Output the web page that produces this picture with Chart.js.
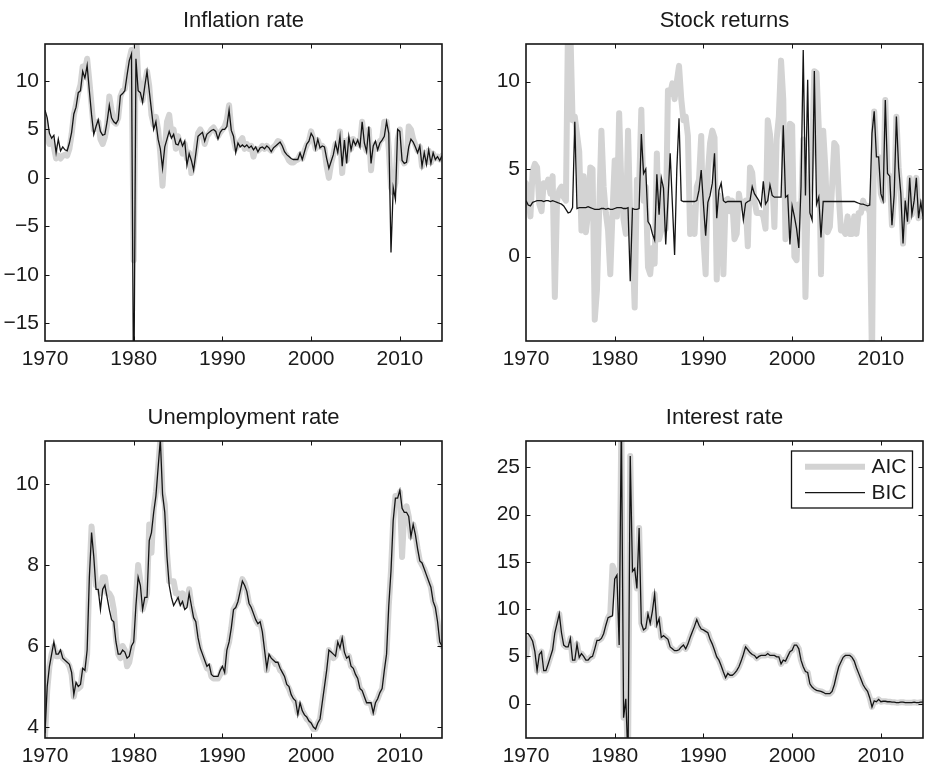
<!DOCTYPE html>
<html><head><meta charset="utf-8">
<script src="https://cdn.jsdelivr.net/npm/chart.js@4.4.1/dist/chart.umd.min.js"></script>
<style>
html,body{margin:0;padding:0;background:#fff;overflow:hidden;width:929px;height:773px;}
.p{position:absolute;}
canvas{display:block;}
</style></head><body>
<div class="p" style="left:0px;top:0px"><canvas id="c1"></canvas></div>
<div class="p" style="left:481px;top:0px"><canvas id="c2"></canvas></div>
<div class="p" style="left:0px;top:397px"><canvas id="c3"></canvas></div>
<div class="p" style="left:481px;top:397px"><canvas id="c4"></canvas></div>
<script>
// ---------- categories (quarters 1970Q1 .. 2014Q4) ----------
const quarters = Array.from({length: 180}, (_, i) => 1970 + i / 4);
const xTickYears = [1970, 1980, 1990, 2000, 2010];
const seriesLabels = ['AIC', 'BIC'];
const panelTitles = ['Inflation rate', 'Stock returns', 'Unemployment rate', 'Interest rate'];

// ---------- y tick labels ----------
const yTicksInfl = [-15, -10, -5, 0, 5, 10];
const yTicksStock = [0, 5, 10];
const yTicksUnemp = [4, 6, 8, 10];
const yTicksInt = [0, 5, 10, 15, 20, 25];

// ---------- Inflation rate ----------
const bicInfl = [
 7.0, 6.2, 4.6, 4.1, 4.4, 2.6, 4.0, 2.8, 3.2, 2.9, 2.8, 3.6, 4.7, 6.6, 7.3, 8.8, 9.0, 11.0, 10.3, 11.6,
 9.0, 6.5, 4.5, 5.3, 6.0, 4.8, 4.4, 4.5, 5.8, 7.5, 6.2, 5.8, 5.6, 6.0, 8.5, 8.7, 9.0, 10.6, 12.1, 12.8,
 -25.0, 12.3, 9.0, 8.8, 7.8, 9.5, 11.0, 9.0, 7.0, 5.0, 5.8, 4.0, 3.0, 1.0, 3.2, 4.0, 4.8, 4.1, 4.5, 3.5,
 3.4, 4.0, 3.3, 3.8, 1.3, 2.5, 1.8, 0.8, 2.5, 4.3, 4.5, 4.7, 3.8, 4.5, 4.7, 4.9, 5.0, 4.8, 4.0, 4.7,
 5.0, 5.0, 5.3, 7.0, 4.9, 4.3, 2.6, 3.6, 3.2, 3.4, 3.2, 3.4, 3.1, 3.3, 2.9, 3.2, 2.7, 3.1, 3.2, 3.0,
 3.3, 3.1, 2.7, 3.1, 3.3, 3.5, 3.7, 3.3, 2.7, 2.4, 2.2, 2.0, 1.9, 1.9, 1.9, 2.6, 1.9, 2.7, 3.5, 3.8,
 4.6, 4.2, 3.0, 4.0, 3.1, 3.3, 3.2, 2.0, 1.0, 1.7, 2.4, 3.6, 2.6, 4.3, 1.2, 3.9, 1.5, 4.3, 2.9, 3.9,
 3.4, 3.9, 3.2, 5.8, 3.6, 2.7, 5.3, 1.5, 3.3, 3.8, 2.9, 3.6, 3.9, 4.3, 5.8, 4.6, -7.7, -1.0, -2.2, 5.0,
 4.8, 1.8, 1.5, 1.6, 3.2, 4.0, 3.7, 3.2, 2.6, 3.3, 1.2, 2.6, 1.4, 2.9, 1.5, 2.6, 1.9, 2.2, 1.8, 2.3
];
const aicInfl = [
 6.0, 4.2, 3.5, 3.8, 3.2, 2.0, 2.3, 2.0, 2.3, 2.4, 2.3, 3.0, 4.5, 6.5, 7.6, 8.8, 9.6, 11.5, 11.0, 12.3,
 10.0, 7.5, 5.0, 5.2, 5.8, 4.0, 3.5, 4.2, 5.5, 8.4, 7.0, 5.8, 5.6, 6.2, 8.4, 9.0, 9.2, 10.8, 12.2, 13.2,
 -8.5, 15.0, 10.5, 9.0, 8.0, 9.8, 11.0, 9.5, 6.5, 5.5, 6.3, 5.0, 2.5, -0.8, 3.0, 5.8, 6.5, 4.5, 5.0, 3.0,
 4.3, 3.5, 2.5, 3.5, 2.0, 2.6, 0.5, 1.5, 3.0, 4.6, 5.0, 4.6, 3.5, 4.3, 4.6, 5.0, 5.2, 4.8, 4.3, 4.7,
 5.0, 5.3, 6.0, 7.5, 5.0, 4.0, 3.0, 3.4, 3.8, 4.1, 3.0, 3.5, 3.0, 3.3, 2.2, 3.0, 2.8, 3.0, 3.3, 3.0,
 3.3, 3.0, 2.8, 3.2, 3.4, 3.8, 3.7, 3.3, 2.6, 2.3, 1.8, 1.6, 1.6, 1.8, 1.9, 2.4, 2.0, 2.8, 3.4, 3.8,
 4.8, 4.0, 3.0, 3.9, 3.2, 3.3, 3.0, 1.2, 0.0, 1.5, 2.4, 3.5, 2.8, 4.8, 0.5, 3.8, 1.8, 4.0, 3.0, 4.0,
 3.5, 3.8, 3.4, 5.8, 3.5, 2.8, 5.0, 0.8, 3.3, 3.5, 3.0, 3.8, 4.0, 5.8, 5.8, 3.0, -1.0, -1.5, -0.5, 4.0,
 5.0, 2.0, 1.5, 1.8, 5.3, 5.0, 4.0, 3.4, 2.8, 3.2, 1.2, 2.6, 1.6, 2.8, 1.6, 2.5, 2.0, 2.2, 1.9, 2.3
];

// ---------- Stock returns ----------
const bicStock = [
 3.2, 2.95, 2.9, 3.1, 3.15, 3.2, 3.2, 3.2, 3.15, 3.2, 3.2, 3.15, 3.2, 3.15, 3.1, 3.05, 3.0, 2.9, 2.7, 2.5,
 2.55, 2.8, 7.7, 2.75, 2.8, 2.8, 2.8, 2.8, 2.85, 2.8, 2.75, 2.7, 2.7, 2.7, 2.75, 2.75, 2.7, 2.75, 2.7, 2.7,
 2.75, 2.8, 2.8, 2.8, 2.75, 2.75, 2.8, -1.4, 2.75, 2.7, 2.7, 2.75, 7.0, 4.75, 5.0, 2.0, 1.8, 1.3, 0.95, 4.7,
 2.4, 4.5, 3.9, 0.7, 3.2, 5.9, 3.0, 0.1, 5.0, 7.9, 3.2, 3.15, 3.15, 3.15, 3.15, 3.15, 3.15, 3.2, 3.8, 4.95,
 3.0, 1.2, 3.1, 3.5, 4.2, 5.9, 2.2, 3.8, 4.2, 3.2, 3.1, 3.15, 3.15, 3.15, 3.15, 3.15, 3.15, 3.15, 2.1, 3.05,
 3.15, 3.2, 4.0, 3.6, 3.4, 3.2, 2.9, 4.3, 3.0, 3.2, 4.1, 3.5, 3.4, 3.4, 3.4, 3.4, 7.5, 3.4, 3.5, 0.7,
 2.9, 2.3, 1.6, 0.5, 4.0, 11.8, 3.5, 10.1, 2.5, 2.1, 10.6, 3.0, 3.4, 1.1, 3.15, 3.15, 3.15, 3.15, 3.15, 3.15,
 3.15, 3.15, 3.15, 3.15, 3.15, 3.15, 3.15, 3.15, 3.15, 3.1, 3.05, 3.0, 3.0, 2.95, 2.9, 2.95, 7.05, 8.3, 5.7, 5.7,
 3.6, 3.2, 8.95, 4.75, 4.6, 1.8, 3.5, 8.0, 5.1, 3.6, 0.75, 3.2, 2.0, 4.5, 2.4, 3.2, 4.5, 2.2, 3.1, 2.3
];
const aicStock = [
 4.2, 3.5, 2.3, 4.9, 5.3, 5.1, 3.0, 2.6, 4.2, 4.0, 4.4, 3.6, 4.6, -2.3, 3.2, 3.8, 4.0, 3.4, 3.2, 14.0,
 13.0, 7.8, 8.0, 7.0, 6.0, 1.5, 4.6, 1.4, 2.5, 5.1, 5.0, -3.6, -1.9, 2.7, 7.2, 4.0, 2.5, 1.5, -1.0, 2.5,
 5.5, 2.3, 8.2, 4.0, 2.1, 1.3, 7.2, 2.3, 0.8, -2.9, 4.4, 4.0, 8.4, 3.2, 4.0, -0.6, -1.0, 0.5, -0.4, 5.9,
 1.0, 1.5, 4.0, 1.6, 9.5, 9.3, 9.9, 9.0, 10.0, 10.9, 9.0, 7.8, 8.0, 6.9, 1.3, 2.8, 1.3, 4.0, 4.4, 6.9,
 1.0, -1.0, 4.8, 6.5, 7.2, 6.8, -1.3, 3.5, 3.0, -1.0, 3.2, 3.3, 2.6, 3.2, 1.0, 1.3, 3.6, 2.8, 3.0, 3.2,
 0.6, 5.1, 4.8, 3.2, 2.5, 2.5, 2.5, 2.3, 1.6, 7.8, 7.0, 4.5, 1.7, 6.7, 8.0, 11.2, 9.0, 1.0, 1.5, 7.6,
 7.5, 0.0, -0.2, 3.0, 2.5, 6.7, -2.3, 3.2, 4.2, 6.0, 10.6, 10.5, 7.4, -1.0, 7.2, 5.0, 1.4, 1.7, 4.0, 6.5,
 6.3, 3.5, 1.5, 1.5, 1.3, 2.3, 1.3, 1.3, 2.3, 1.3, 2.5, 2.5, 3.2, 2.8, 2.9, 2.5, -6.0, 8.3, 5.7, 5.7,
 3.6, 3.2, 8.95, 4.75, 4.6, 1.8, 3.5, 8.0, 5.1, 3.6, 0.75, 3.2, 2.0, 4.5, 2.4, 3.2, 4.5, 2.2, 3.1, 2.3
];

// ---------- Unemployment rate ----------
const bicUnemp = [
 3.85, 5.0, 5.5, 5.8, 6.1, 5.8, 5.8, 5.9, 5.7, 5.65, 5.6, 5.55, 5.35, 4.8, 5.1, 5.0, 5.05, 5.45, 5.4, 5.9,
 7.7, 8.8, 8.2, 7.4, 7.4, 6.9, 7.4, 7.5, 7.2, 6.9, 6.65, 6.6, 6.1, 5.8, 5.8, 5.9, 5.85, 5.7, 5.75, 6.0,
 6.1, 7.0, 7.7, 7.5, 6.9, 7.2, 7.2, 8.6, 8.8, 9.3, 9.7, 10.4, 11.1, 9.75, 9.3, 8.2, 7.5, 7.2, 7.0, 7.1,
 7.2, 7.0, 7.1, 6.9, 6.95, 7.3, 7.0, 6.7, 6.6, 6.2, 5.95, 5.8, 5.65, 5.5, 5.55, 5.3, 5.25, 5.25, 5.25, 5.4,
 5.5, 5.35, 5.9, 6.1, 6.45, 6.9, 6.95, 7.1, 7.35, 7.6, 7.5, 7.35, 7.05, 6.95, 6.8, 6.65, 6.55, 6.6, 6.35, 5.9,
 5.45, 5.8, 5.7, 5.65, 5.6, 5.6, 5.45, 5.35, 5.25, 5.05, 5.0, 4.8, 4.7, 4.65, 4.3, 4.6, 4.4, 4.3, 4.25, 4.15,
 4.1, 4.0, 3.95, 4.1, 4.2, 4.6, 5.0, 5.4, 5.9, 5.85, 5.8, 5.75, 6.1, 5.95, 6.2, 5.85, 5.7, 5.75, 5.5, 5.45,
 5.3, 5.2, 4.95, 4.9, 4.75, 4.6, 4.6, 4.6, 4.35, 4.6, 4.7, 4.85, 4.95, 5.4, 5.8, 7.0, 7.85, 9.1, 9.65, 9.65,
 9.85, 9.4, 9.3, 9.3, 9.2, 8.7, 9.0, 8.75, 8.4, 8.1, 8.05, 7.9, 7.75, 7.6, 7.45, 7.1, 6.95, 6.6, 6.1, 6.0
];
const aicUnemp = [
 3.75, 4.9, 5.5, 5.8, 6.0, 5.75, 5.75, 5.85, 5.7, 5.65, 5.6, 5.5, 5.3, 4.75, 5.05, 4.95, 5.0, 5.4, 5.4, 5.8,
 7.7, 8.95, 8.3, 7.5, 7.5, 7.3, 7.7, 7.7, 7.3, 7.3, 7.2, 6.9, 6.2, 5.8, 5.7, 6.0, 5.9, 5.5, 5.6, 5.9,
 6.2, 7.2, 8.0, 7.6, 6.9, 7.1, 7.3, 9.0, 8.3, 9.4, 9.8, 10.4, 11.1, 9.8, 9.5, 8.3, 7.6, 7.6, 7.6, 7.3,
 7.3, 7.1, 7.3, 7.0, 7.1, 7.4, 7.0, 6.8, 6.6, 6.2, 5.9, 5.75, 5.6, 5.45, 5.5, 5.25, 5.2, 5.2, 5.2, 5.3,
 5.45, 5.35, 5.9, 6.1, 6.45, 6.9, 7.0, 7.1, 7.4, 7.65, 7.55, 7.35, 7.05, 6.95, 6.8, 6.65, 6.55, 6.6, 6.35, 5.9,
 5.4, 5.75, 5.7, 5.65, 5.55, 5.55, 5.4, 5.35, 5.2, 5.05, 4.95, 4.8, 4.7, 4.6, 4.35, 4.55, 4.4, 4.3, 4.2, 4.15,
 4.05, 3.95, 3.95, 4.1, 4.2, 4.6, 5.0, 5.4, 5.9, 5.8, 5.7, 5.75, 6.1, 5.95, 6.2, 5.85, 5.7, 5.75, 5.5, 5.45,
 5.3, 5.2, 4.95, 4.9, 4.75, 4.6, 4.6, 4.55, 4.35, 4.6, 4.7, 4.85, 4.95, 5.4, 5.8, 7.0, 7.85, 9.1, 9.7, 9.6,
 9.8, 8.2, 9.3, 9.45, 9.2, 8.7, 9.0, 8.75, 8.4, 8.1, 8.0, 7.9, 7.75, 7.6, 7.45, 7.1, 6.95, 6.6, 6.1, 6.0
];

// ---------- Interest rate ----------
const bicInt = [
 7.4, 7.4, 7.05, 6.6, 5.5, 3.5, 5.2, 5.5, 3.5, 3.5, 4.2, 4.95, 5.7, 7.5, 8.5, 9.5, 7.5, 6.2, 6.0, 6.0,
 6.9, 4.6, 4.6, 6.3, 4.9, 5.3, 5.0, 4.6, 4.6, 4.9, 5.0, 5.8, 6.7, 6.7, 6.9, 7.4, 8.3, 9.1, 9.2, 9.3,
 13.2, 13.6, 6.2, 30.0, -1.5, 0.5, -6.0, 26.2, 14.0, 14.3, 12.2, 18.6, 8.5, 7.8, 8.0, 9.5, 8.5, 9.8, 11.6, 8.3,
 9.0, 7.0, 7.2, 7.0, 6.8, 6.0, 5.8, 5.6, 5.6, 5.7, 6.0, 6.2, 5.8, 6.3, 7.0, 7.6, 8.2, 8.9, 8.3, 7.9,
 7.8, 7.65, 7.5, 6.8, 6.3, 5.65, 4.95, 4.6, 4.0, 3.35, 2.75, 3.2, 3.0, 3.0, 3.2, 3.5, 3.9, 4.5, 5.2, 6.0,
 5.7, 5.4, 5.2, 5.1, 4.8, 5.0, 5.1, 5.1, 5.1, 5.3, 5.1, 5.1, 5.1, 4.95, 4.95, 4.2, 4.6, 4.5, 5.0, 5.5,
 5.65, 6.2, 6.2, 5.8, 4.6, 3.9, 3.4, 3.3, 2.1, 1.75, 1.55, 1.4, 1.35, 1.3, 1.2, 1.05, 1.05, 1.05, 1.3, 2.0,
 3.0, 3.9, 4.4, 4.9, 5.1, 5.1, 5.1, 4.9, 4.5, 3.8, 3.2, 2.6, 2.0, 1.6, 1.3, 0.6, -0.35, 0.3, 0.2, 0.45,
 0.2, 0.25, 0.25, 0.2, 0.2, 0.15, 0.15, 0.1, 0.1, 0.15, 0.15, 0.1, 0.1, 0.1, 0.1, 0.15, 0.1, 0.1, 0.15, 0.15
];
const aicInt = [
 5.0, 6.8, 7.05, 6.6, 5.5, 3.5, 5.2, 5.5, 3.5, 3.5, 4.2, 4.95, 5.7, 7.5, 8.5, 9.5, 7.5, 6.2, 6.0, 6.0,
 6.9, 4.6, 4.6, 6.3, 4.9, 5.3, 5.0, 4.6, 4.6, 4.9, 5.0, 5.8, 6.7, 6.7, 6.9, 7.4, 8.3, 9.1, 9.5, 14.6,
 14.0, 13.6, 6.2, 30.0, -1.5, 0.5, -6.0, 26.2, 14.0, 14.3, 12.2, 18.6, 8.5, 7.8, 8.0, 9.5, 8.5, 9.8, 11.6, 8.3,
 9.0, 7.0, 7.2, 7.0, 6.8, 6.0, 5.8, 5.6, 5.6, 5.7, 6.0, 6.2, 5.8, 6.3, 7.0, 7.6, 8.2, 8.9, 8.3, 7.9,
 7.8, 7.65, 7.5, 6.8, 6.3, 5.65, 4.95, 4.6, 4.0, 3.35, 2.75, 3.2, 3.0, 3.0, 3.2, 3.5, 3.9, 4.5, 5.2, 6.0,
 5.7, 5.4, 5.2, 5.1, 4.8, 5.0, 5.1, 5.1, 5.1, 5.3, 5.1, 5.1, 5.1, 4.95, 4.95, 4.2, 4.6, 4.5, 5.0, 5.5,
 5.65, 6.2, 6.2, 5.8, 4.6, 3.9, 3.4, 3.3, 2.1, 1.75, 1.55, 1.4, 1.35, 1.3, 1.2, 1.05, 1.05, 1.05, 1.3, 2.0,
 3.0, 3.9, 4.4, 4.9, 5.1, 5.1, 5.1, 4.9, 4.5, 3.8, 3.2, 2.6, 2.0, 1.6, 1.3, 0.6, -0.35, 0.3, 0.2, 0.45,
 0.2, 0.25, 0.25, 0.2, 0.2, 0.15, 0.15, 0.1, 0.1, 0.15, 0.15, 0.1, 0.1, 0.1, 0.1, 0.15, 0.1, 0.1, 0.15, 0.15
];

// ---------- rendering ----------
const FONT = "'Liberation Sans', Arial, Helvetica, sans-serif";
const TXT = '#1a1a1a';
const Y_AXIS_W = 45, X_AXIS_H = 40, TITLE_H = 44, AREA_W = 397, PAD_R = 4;

const framePlugin = {
  id: 'frame',
  afterDatasetsDraw(chart) {
    const {ctx, chartArea: a, scales} = chart;
    ctx.save();
    ctx.strokeStyle = '#111';
    ctx.lineWidth = 1;
    const tl = 4.5;
    scales.x.ticks.forEach(t => {
      const x = Math.round(scales.x.getPixelForValue(t.value)) + 0.5;
      if (x <= a.left + 1 || x >= a.right - 1) return;
      ctx.beginPath();
      ctx.moveTo(x, a.bottom); ctx.lineTo(x, a.bottom - tl);
      ctx.moveTo(x, a.top); ctx.lineTo(x, a.top + tl);
      ctx.stroke();
    });
    scales.y.ticks.forEach(t => {
      const y = Math.round(scales.y.getPixelForValue(t.value)) + 0.5;
      if (y <= a.top + 1 || y >= a.bottom - 1) return;
      ctx.beginPath();
      ctx.moveTo(a.left, y); ctx.lineTo(a.left + tl, y);
      ctx.moveTo(a.right, y); ctx.lineTo(a.right - tl, y);
      ctx.stroke();
    });
    ctx.lineWidth = 1.6;
    ctx.strokeStyle = '#151515';
    ctx.strokeRect(a.left, a.top, a.right - a.left, a.bottom - a.top);
    const lg = chart.options.plugins.boxLegend;
    if (lg && lg.show) {
      const bx = a.right - 131.5, by = a.top + 10, bw = 121, bh = 57;
      ctx.fillStyle = '#fff';
      ctx.fillRect(bx, by, bw, bh);
      ctx.lineWidth = 1.3;
      ctx.strokeStyle = '#111';
      ctx.strokeRect(bx, by, bw, bh);
      const rows = [by + 15.7, by + 41.7];
      chart.data.datasets.forEach((ds, i) => {
        ctx.beginPath();
        ctx.strokeStyle = ds.borderColor;
        ctx.lineWidth = ds.borderWidth;
        ctx.lineCap = 'butt';
        ctx.moveTo(bx + 13.5, rows[i]); ctx.lineTo(bx + 73.5, rows[i]);
        ctx.stroke();
        ctx.fillStyle = TXT;
        ctx.font = '21px ' + FONT;
        ctx.textBaseline = 'middle';
        ctx.textAlign = 'left';
        ctx.fillText(ds.label, bx + 80, rows[i] + 1);
      });
    }
    ctx.restore();
  }
};

function makePanel(id, title, aic, bic, yMin, yMax, yTicks, areaH, legend) {
  const cv = document.getElementById(id);
  cv.width = Y_AXIS_W + AREA_W + PAD_R;
  cv.height = TITLE_H + areaH + X_AXIS_H;
  cv.style.width = cv.width + 'px';
  cv.style.height = cv.height + 'px';
  const mk = arr => quarters.map((q, i) => ({x: q, y: arr[i]}));
  return new Chart(cv, {
    type: 'line',
    data: {
      datasets: [
        {label: seriesLabels[0], data: mk(aic), borderColor: '#d3d3d3', borderWidth: 6,
         pointRadius: 0, tension: 0, borderJoinStyle: 'round', borderCapStyle: 'round', clip: 0, order: 1},
        {label: seriesLabels[1], data: mk(bic), borderColor: '#141414', borderWidth: 1.3,
         pointRadius: 0, tension: 0, borderJoinStyle: 'miter', clip: 0, order: 0}
      ]
    },
    options: {
      responsive: false,
      animation: false,
      devicePixelRatio: window.devicePixelRatio || 1,
      layout: {padding: {left: 0, right: PAD_R, top: 0, bottom: 0}},
      plugins: {
        legend: {display: false},
        tooltip: {enabled: false},
        title: {display: true, text: title, color: TXT, fullSize: false,
                font: {family: FONT, size: 22, weight: 'normal', lineHeight: 1.2},
                padding: {top: 7.4, bottom: 10.2}},
        boxLegend: {show: legend}
      },
      scales: {
        x: {
          type: 'linear', min: 1970, max: 2014.75,
          grid: {display: false, drawTicks: false, tickLength: 0}, border: {display: false},
          afterBuildTicks: s => { s.ticks = xTickYears.map(v => ({value: v})); },
          afterFit: s => { s.height = X_AXIS_H; },
          ticks: {color: TXT, font: {family: FONT, size: 21}, padding: 5.4,
                  maxRotation: 0, autoSkip: false, callback: v => String(v)}
        },
        y: {
          type: 'linear', min: yMin, max: yMax,
          grid: {display: false, drawTicks: false, tickLength: 0}, border: {display: false},
          afterBuildTicks: s => { s.ticks = yTicks.map(v => ({value: v})); },
          afterFit: s => { s.width = Y_AXIS_W; },
          ticks: {color: TXT, font: {family: FONT, size: 21}, padding: 6, autoSkip: false,
                  callback: v => (v < 0 ? '\u2212' + Math.abs(v) : String(v))}
        }
      }
    },
    plugins: [framePlugin]
  });
}

makePanel('c1', panelTitles[0], aicInfl, bicInfl, -16.83, 13.82, yTicksInfl, 297, false);
makePanel('c2', panelTitles[1], aicStock, bicStock, -4.82, 12.15, yTicksStock, 297, false);
makePanel('c3', panelTitles[2], aicUnemp, bicUnemp, 3.73, 11.06, yTicksUnemp, 297, false);
makePanel('c4', panelTitles[3], aicInt, bicInt, -3.64, 27.8, yTicksInt, 297, true);
</script>
</body></html>
